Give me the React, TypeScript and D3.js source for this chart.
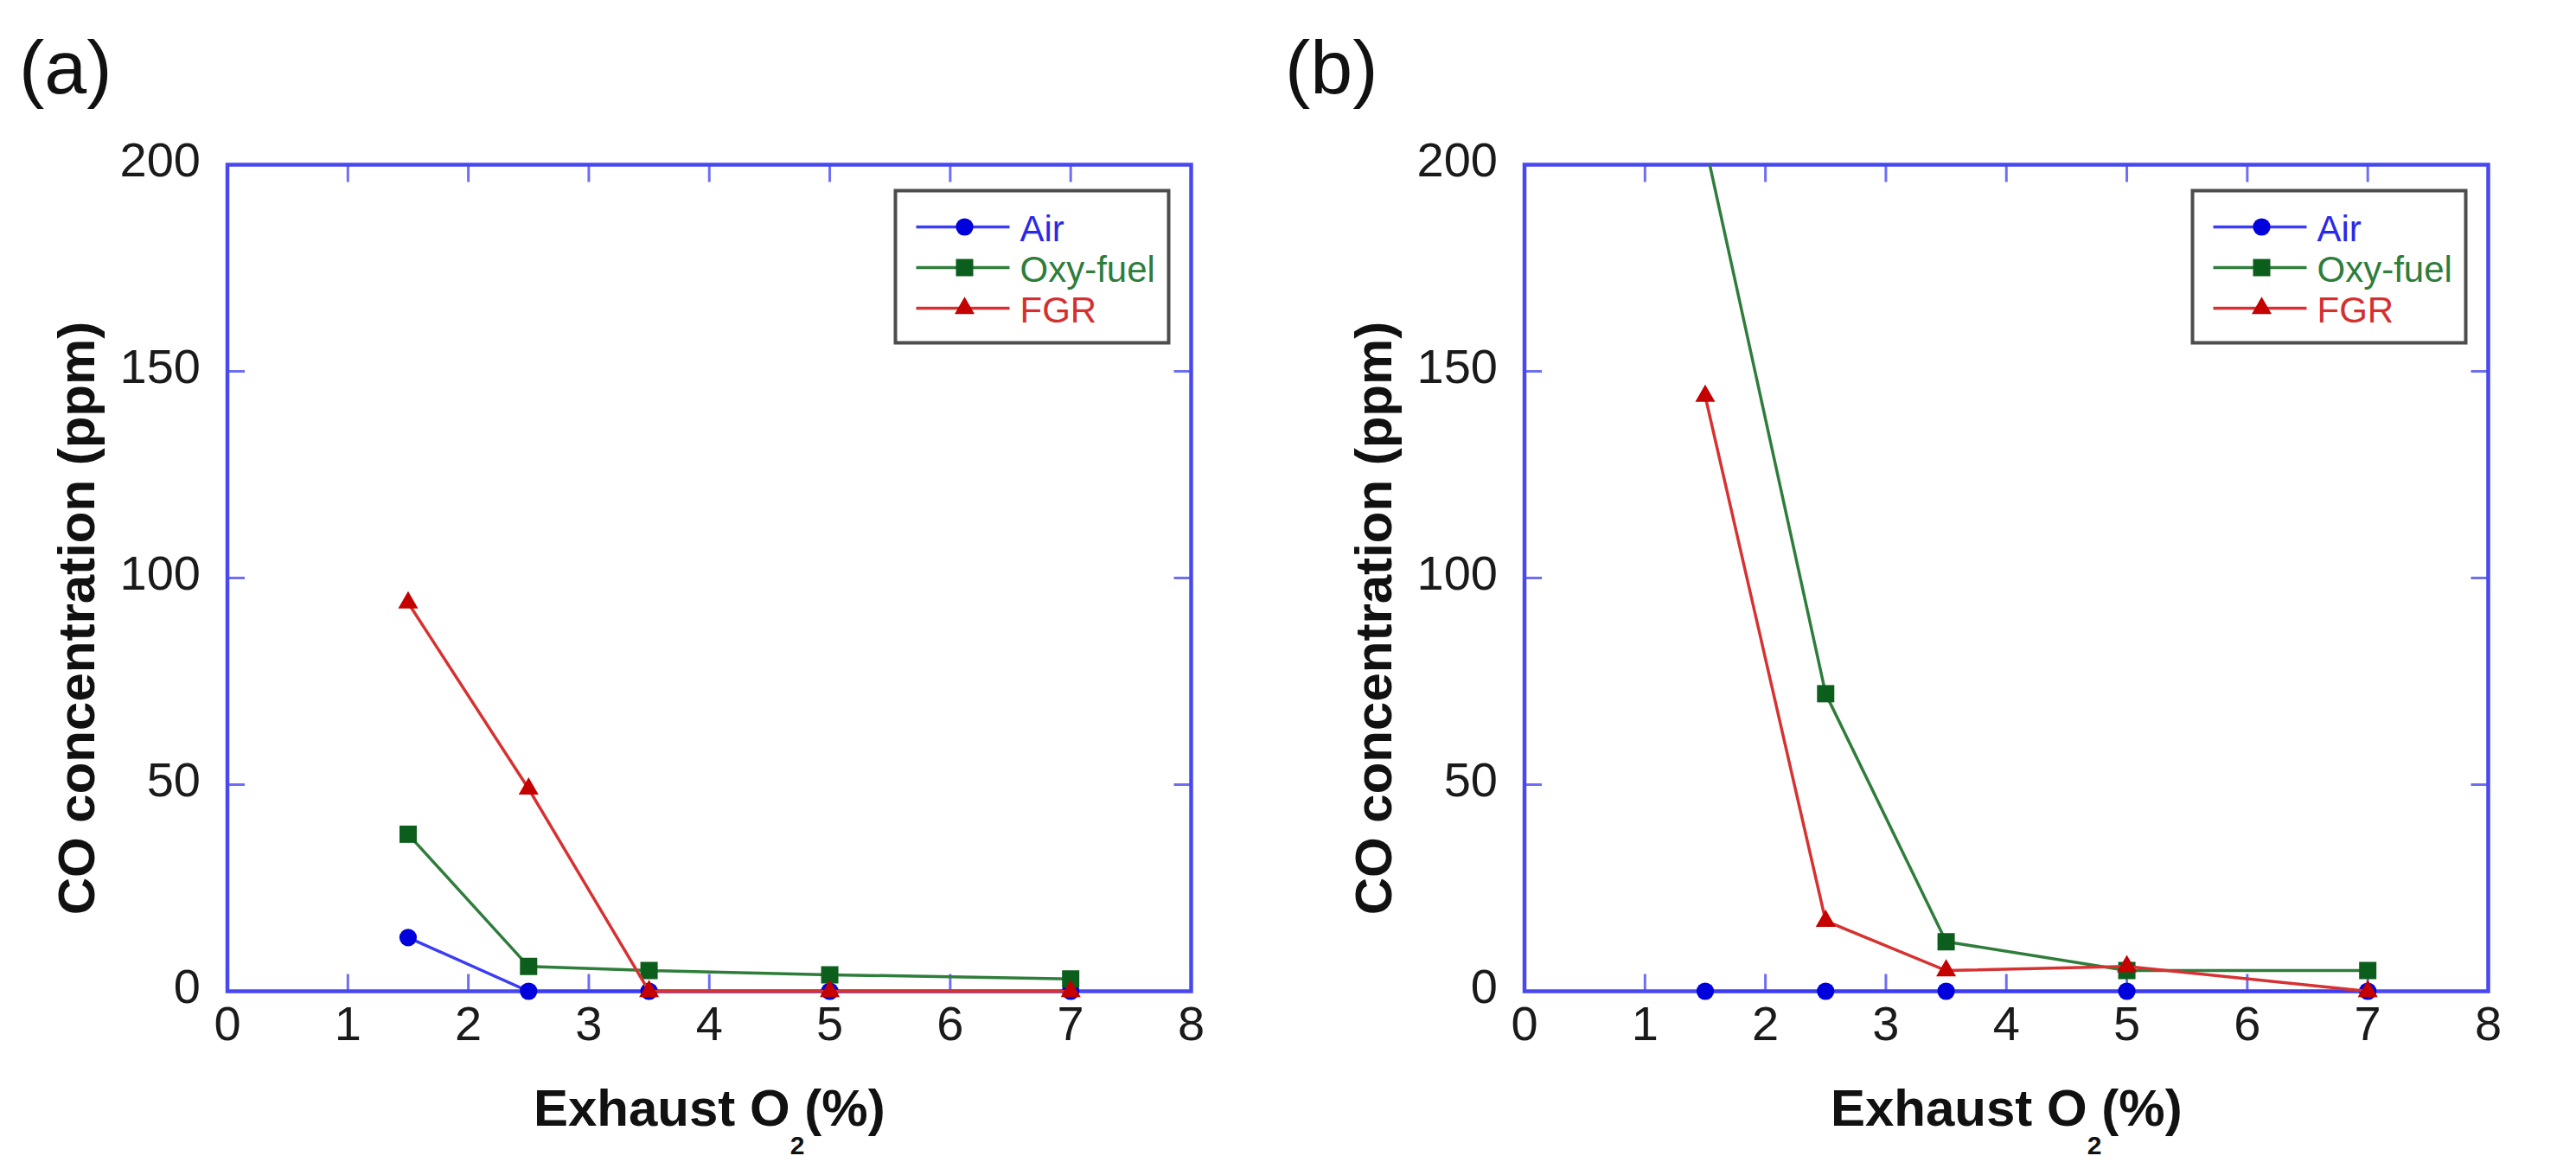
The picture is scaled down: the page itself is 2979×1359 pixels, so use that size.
import * as d3 from "d3";

const W = 2979;
const H = 1359;
const FONT = "'Liberation Sans', Arial, Helvetica, sans-serif";

// exhaust O2 (%) at which CO was measured
const o2Levels = [1.5, 2.5, 3.5, 5, 7];
const xTicks = [0, 1, 2, 3, 4, 5, 6, 7, 8];
const yTicks = [0, 50, 100, 150, 200];
const seriesNames = ["Air", "Oxy-fuel", "FGR"];

// panel (a)
const airA = [13, 0, 0, 0, 0];
const oxyA = [38, 6, 5, 4, 3];
const fgrA = [94, 49, 0, 0, 0];

// panel (b)
const airB = [0, 0, 0, 0, 0];
const oxyB = [205, 72, 12, 5, 5];
const fgrB = [144, 17, 5, 6, 0];

const styles = [
  { line: "#3c3cf2", mark: "#0000dd", text: "#2a2ae6", shape: d3.symbolCircle, size: 320 },
  { line: "#2f7d3b", mark: "#0b5e1c", text: "#2e7d3a", shape: d3.symbolSquare, size: 400 },
  { line: "#d63232", mark: "#c40000", text: "#d43030", shape: d3.symbolTriangle, size: 230 },
];

const frameColor = "#4848f0";
const tickColor = "#6e6ef2";

type PanelProps = {
  id: string;
  label: string;
  labelX: number;
  left: number;
  series: number[][];
};

const top = 190.5;
const plotW = 1114.5;
const plotH = 956;

const Panel = ({ id, label, labelX, left, series }: PanelProps) => {
  const x = d3.scaleLinear().domain([0, 8]).range([left, left + plotW]);
  const y = d3.scaleLinear().domain([0, 200]).range([top + plotH, top]);
  const line = d3.line<number>().x((_, i) => x(o2Levels[i])).y(d => y(d));
  const right = left + plotW;
  const bottom = top + plotH;
  const tickLen = 20;

  const boxR = right - 26;
  const boxL = boxR - 316;
  const boxT = top + 30;
  const rows = [42, 89, 136];

  return (
    <g>
      <defs>
        <clipPath id={`clip-${id}`}>
          <rect x={left - 30} y={top} width={plotW + 60} height={plotH + 40} />
        </clipPath>
      </defs>
      <text x={labelX} y={108} fontSize={88} fontFamily={FONT} fill="#111">{label}</text>

      {/* inward ticks on all four sides */}
      {xTicks.slice(1, -1).map(t => (
        <g key={"xt" + t} stroke={tickColor} strokeWidth={3}>
          <line x1={x(t)} x2={x(t)} y1={bottom} y2={bottom - tickLen} />
          <line x1={x(t)} x2={x(t)} y1={top} y2={top + tickLen} />
        </g>
      ))}
      {yTicks.slice(1, -1).map(t => (
        <g key={"yt" + t} stroke={tickColor} strokeWidth={3}>
          <line x1={left} x2={left + tickLen} y1={y(t)} y2={y(t)} />
          <line x1={right} x2={right - tickLen} y1={y(t)} y2={y(t)} />
        </g>
      ))}
      <rect x={left} y={top} width={plotW} height={plotH} fill="none" stroke={frameColor} strokeWidth={4.5} />

      {xTicks.map(t => (
        <text key={"xl" + t} x={x(t)} y={bottom + 56} textAnchor="middle" fontSize={56} fontFamily={FONT} fill="#1a1a1a">{t}</text>
      ))}
      {yTicks.map(t => (
        <text key={"yl" + t} x={left - 31} y={y(t) + 13} textAnchor="end" fontSize={56} fontFamily={FONT} fill="#1a1a1a">{t}</text>
      ))}

      <text x={(left + right) / 2} y={1302} textAnchor="middle" fontSize={60} fontWeight="bold" fontFamily={FONT} fill="#111">
        Exhaust O<tspan fontSize={30} dy={33}>2</tspan><tspan dy={-33}>(%)</tspan>
      </text>
      <text transform={`translate(${left - 154},715) rotate(-90)`} textAnchor="middle" fontSize={60} fontWeight="bold" fontFamily={FONT} fill="#111">
        CO concentration (ppm)
      </text>

      <g clipPath={`url(#clip-${id})`}>
        {series.map((vals, si) => (
          <g key={"s" + si}>
            <path d={line(vals) ?? ""} fill="none" stroke={styles[si].line} strokeWidth={3.5} />
            {vals.map((v, i) => (
              <path key={i} transform={`translate(${x(o2Levels[i])},${y(v)})`}
                d={d3.symbol(styles[si].shape, styles[si].size)() ?? ""} fill={styles[si].mark} />
            ))}
          </g>
        ))}
      </g>

      {/* legend */}
      <rect x={boxL} y={boxT} width={boxR - boxL} height={176} fill="#fff" stroke="#4d4d4d" strokeWidth={4} />
      {seriesNames.map((name, si) => (
        <g key={name}>
          <line x1={boxL + 24} x2={boxL + 132} y1={boxT + rows[si]} y2={boxT + rows[si]} stroke={styles[si].line} strokeWidth={3.5} />
          <path transform={`translate(${boxL + 80},${boxT + rows[si]})`}
            d={d3.symbol(styles[si].shape, styles[si].size)() ?? ""} fill={styles[si].mark} />
          <text x={boxL + 144} y={boxT + rows[si] + 16} fontSize={42} fontFamily={FONT} fill={styles[si].text}>{name}</text>
        </g>
      ))}
    </g>
  );
};

const App = () => {
  return (
    <svg width={W} height={H} style={{ position: "absolute", left: 0, top: 0, background: "#fff" }}>
      <rect width={W} height={H} fill="#fff" />
      <Panel id="a" label="(a)" labelX={22} left={263} series={[airA, oxyA, fgrA]} />
      <Panel id="b" label="(b)" labelX={1486} left={1763} series={[airB, oxyB, fgrB]} />
    </svg>
  );
};

export default App;
